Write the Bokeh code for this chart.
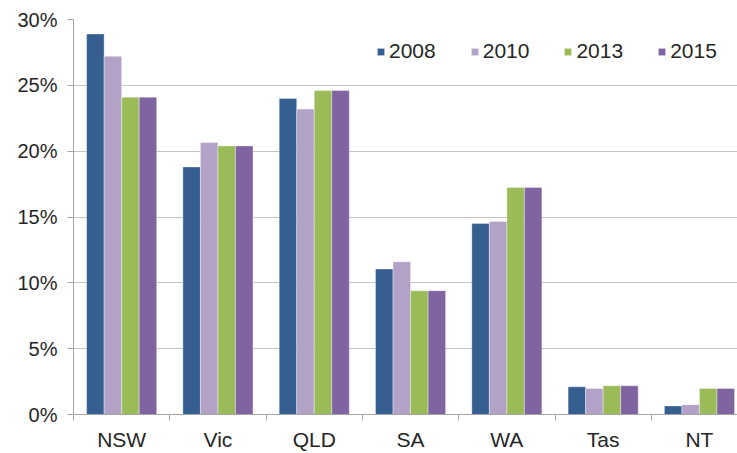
from bokeh.plotting import figure
from bokeh.models import Range1d, FixedTicker, Legend, LegendItem, PrintfTickFormatter, ColumnDataSource
from bokeh.embed import file_html
from bokeh.resources import INLINE

states = ["NSW", "Vic", "QLD", "SA", "WA", "Tas", "NT"]
years = ["2008", "2010", "2013", "2015"]
v2008 = [28.9, 18.8, 24.0, 11.05, 14.5, 2.1, 0.65]
v2010 = [27.2, 20.65, 23.2, 11.6, 14.65, 1.98, 0.75]
v2013 = [24.1, 20.4, 24.6, 9.4, 17.25, 2.18, 1.98]
v2015 = [24.1, 20.4, 24.6, 9.4, 17.25, 2.18, 1.98]
y_ticks = [0, 5, 10, 15, 20, 25, 30]
colors = ["#355E91", "#B3A2C7", "#9BBB59", "#8064A2"]

series = [v2008, v2010, v2013, v2015]
bar_w = 0.182
offsets = [-1.5 * bar_w, -0.5 * bar_w, 0.5 * bar_w, 1.5 * bar_w]

FONT = "Liberation Sans"
TXT = "#262626"
GRID = "#C4C4C4"
AX = "#A6A6A6"

p = figure(width=737, height=453, output_backend="svg", toolbar_location=None,
           x_range=Range1d(0, 6.895), y_range=Range1d(0, 30),
           min_border_left=73, min_border_right=0, min_border_top=19, min_border_bottom=38)
p.outline_line_color = None
p.background_fill_color = "white"

renderers = []
for j, vals in enumerate(series):
    src = ColumnDataSource(dict(x=[i + 0.5 + offsets[j] for i in range(len(states))], top=vals))
    r = p.vbar(x="x", top="top", width=bar_w, bottom=0, source=src,
               fill_color=colors[j], line_color="white", line_width=0.6, line_alpha=0.6)
    renderers.append(r)

# y axis
p.yaxis.ticker = FixedTicker(ticks=y_ticks)
p.yaxis.formatter = PrintfTickFormatter(format="%d%%")
p.yaxis.axis_line_color = AX
p.yaxis.major_tick_line_color = AX
p.yaxis.major_tick_out = 6
p.yaxis.major_tick_in = 0
p.yaxis.minor_tick_line_color = None
p.yaxis.major_label_standoff = 10
p.yaxis.major_label_text_font = FONT
p.yaxis.major_label_text_font_size = "20px"
p.yaxis.major_label_text_color = TXT

# x axis
p.xaxis.ticker = FixedTicker(ticks=[i + 0.5 for i in range(len(states))],
                             minor_ticks=list(range(len(states) + 1)))
p.xaxis.major_label_overrides = {i + 0.5: s for i, s in enumerate(states)}
p.xaxis.axis_line_color = AX
p.xaxis.major_tick_line_color = None
p.xaxis.minor_tick_line_color = AX
p.xaxis.minor_tick_out = 6
p.xaxis.minor_tick_in = 0
p.xaxis.major_label_standoff = 7
p.xaxis.major_label_text_font = FONT
p.xaxis.major_label_text_font_size = "21px"
p.xaxis.major_label_text_color = TXT

p.xgrid.grid_line_color = None
p.ygrid.grid_line_color = GRID
p.ygrid.grid_line_width = 1

legend = Legend(items=[LegendItem(label=y, renderers=[r]) for y, r in zip(years, renderers)],
                orientation="horizontal", location=(303, 351),
                glyph_width=9, glyph_height=9, label_standoff=4, spacing=34,
                padding=0, margin=0, border_line_color=None, background_fill_alpha=0,
                label_text_font=FONT, label_text_font_size="21px", label_text_color=TXT,
                label_height=20)
p.add_layout(legend, "center")

open("out.html", "w").write(file_html(p, INLINE))
